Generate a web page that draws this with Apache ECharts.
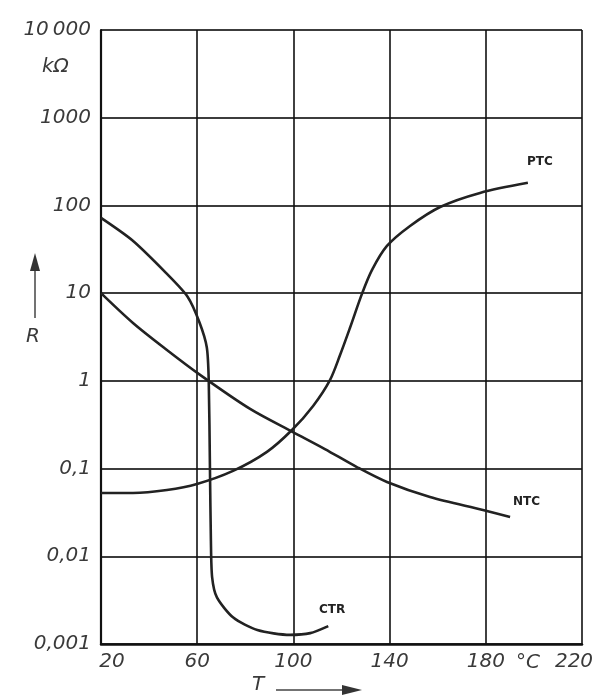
<!DOCTYPE html>
<html>
<head>
<meta charset="utf-8">
<script src="https://cdn.jsdelivr.net/npm/echarts@6/dist/echarts.min.js"></script>
<style>
html,body{margin:0;padding:0;background:#fff;}
#chart{width:602px;height:696px;}
</style>
</head>
<body>
<div id="chart"></div>
<script>
// ---- data ----
var xTickLabels = ['20', '60', '100', '140', '180', '220'];
var yTickLabels = ['0,001', '0,01', '0,1', '1', '10', '100', '1000', '10\u2009000'];

var ntcT = [20, 33.3, 47.4, 61.2, 82, 99.8, 113.1, 126.4, 138.9, 156.8, 178.8, 190.1];
var ntcR = [10, 4.57, 2.25, 1.17, 0.479, 0.261, 0.167, 0.104, 0.0703, 0.0474, 0.0337, 0.0281];

var ptcT = [20, 33.3, 47.4, 59.9, 74.9, 89, 99.4, 108.2, 115.2, 119.4, 123.5, 128.5, 132.7, 138.9, 148.5, 161, 177.6, 197.5];
var ptcR = [0.0527, 0.0527, 0.057, 0.0667, 0.094, 0.155, 0.275, 0.518, 1.02, 1.97, 4.0, 9.8, 18.4, 34.5, 58.3, 96, 139, 181];

var ctrT = [20, 33, 47, 56, 61, 64, 64.8, 65.3, 65.7, 66.2, 68.2, 75, 85, 98.6, 107, 114.5];
var ctrR = [72, 40, 17, 9.1, 4.6, 2.4, 1.0, 0.1, 0.015, 0.0058, 0.0034, 0.002, 0.00144, 0.00127, 0.00133, 0.0016];

function pairs(xs, ys) { return xs.map(function (x, i) { return [x, ys[i]]; }); }

var curveStyle = { color: '#222', width: 2.6 };
var tickFont = { fontFamily: 'DejaVu Sans', fontStyle: 'italic', fontSize: 20, color: '#3a3a3a' };

var chart = echarts.init(document.getElementById('chart'), null, { renderer: 'canvas' });
chart.setOption({
  animation: false,
  backgroundColor: '#fff',
  grid: { left: 101, top: 30, width: 481, height: 614, containLabel: false },
  xAxis: {
    type: 'value', min: 20, max: 220, interval: 40,
    axisLine: { show: true, lineStyle: { color: '#111', width: 2.5 } },
    axisTick: { show: false },
    splitLine: { show: true, lineStyle: { color: '#111', width: 1.6 } },
    axisLabel: {
      margin: 8,
      fontFamily: tickFont.fontFamily, fontStyle: 'italic', fontSize: 20, color: tickFont.color,
      showMinLabel: true, showMaxLabel: true,
      formatter: function (v) {
        var i = Math.round((v - 20) / 40);
        var s = xTickLabels[i];
        if (i === 0) return '{first|' + s + '}';
        if (i === xTickLabels.length - 1) return '{last|' + s + '}';
        return s;
      },
      rich: {
        first: { fontFamily: 'DejaVu Sans', fontStyle: 'italic', fontSize: 20, color: '#3a3a3a', padding: [0, 0, 0, 22] },
        last: { fontFamily: 'DejaVu Sans', fontStyle: 'italic', fontSize: 20, color: '#3a3a3a', padding: [0, 16, 0, 0] }
      }
    }
  },
  yAxis: {
    type: 'log', logBase: 10, min: 0.001, max: 10000,
    axisLine: { show: true, lineStyle: { color: '#111', width: 2.2 } },
    axisTick: { show: false },
    splitLine: { show: true, lineStyle: { color: '#3c3c3c', width: 2.2 } },
    axisLabel: {
      margin: 10,
      fontFamily: tickFont.fontFamily, fontStyle: 'italic', fontSize: 20, color: tickFont.color,
      showMinLabel: true, showMaxLabel: true,
      formatter: function (v) {
        var i = Math.round(Math.log(v) / Math.LN10) + 3;
        return yTickLabels[i];
      }
    }
  },
  series: [
    { name: 'NTC', type: 'line', data: pairs(ntcT, ntcR), showSymbol: false, smooth: 0.3, lineStyle: curveStyle },
    { name: 'PTC', type: 'line', data: pairs(ptcT, ptcR), showSymbol: false, smooth: 0.3, lineStyle: curveStyle },
    { name: 'CTR', type: 'line', data: pairs(ctrT, ctrR), showSymbol: false, smooth: 0.25, lineStyle: curveStyle }
  ],
  graphic: [
    { type: 'text', left: 42, top: 57, style: { text: 'k\u03a9', font: 'italic 20px "DejaVu Sans"', fill: '#3a3a3a' } },
    { type: 'text', left: 516, top: 653, style: { text: '\u00b0C', font: 'italic 20px "DejaVu Sans"', fill: '#3a3a3a' } },
    { type: 'text', left: 527, top: 156, style: { text: 'PTC', font: 'bold 12px "DejaVu Sans"', fill: '#222' } },
    { type: 'text', left: 513, top: 496, style: { text: 'NTC', font: 'bold 12px "DejaVu Sans"', fill: '#222' } },
    { type: 'text', left: 319, top: 604, style: { text: 'CTR', font: 'bold 12px "DejaVu Sans"', fill: '#222' } },
    // R arrow
    { type: 'line', shape: { x1: 35, y1: 318, x2: 35, y2: 268 }, style: { stroke: '#444', lineWidth: 1.5 } },
    { type: 'polygon', shape: { points: [[35, 253], [30, 271], [40, 271]] }, style: { fill: '#333' } },
    { type: 'text', left: 26, top: 327, style: { text: 'R', font: 'italic 20px "DejaVu Sans"', fill: '#3a3a3a' } },
    // T arrow
    { type: 'text', left: 252, top: 675, style: { text: 'T', font: 'italic 20px "DejaVu Sans"', fill: '#3a3a3a' } },
    { type: 'line', shape: { x1: 276, y1: 690, x2: 345, y2: 690 }, style: { stroke: '#444', lineWidth: 1.5 } },
    { type: 'polygon', shape: { points: [[362, 690], [342, 685], [342, 695]] }, style: { fill: '#333' } }
  ]
});
</script>
</body>
</html>
